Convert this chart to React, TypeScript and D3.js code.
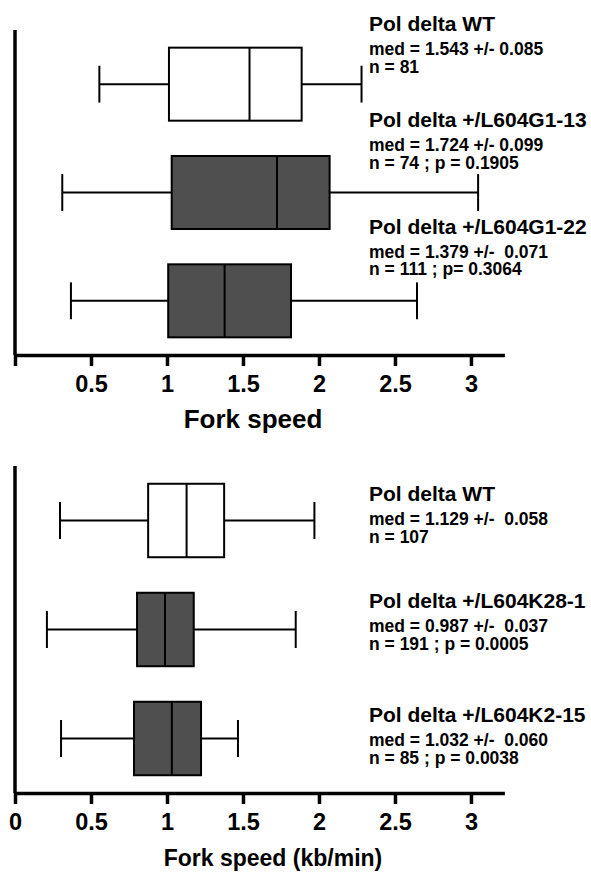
import React, { useEffect, useRef } from 'react';
import * as d3 from 'd3';

// top panel (G1 mutants)
const topGroups = ['Pol delta WT', 'Pol delta +/L604G1-13', 'Pol delta +/L604G1-22'];
const topMin = [0.555, 0.311, 0.368];
const topQ1 = [1.013, 1.031, 1.008];
const topMedian = [1.543, 1.724, 1.379];
const topQ3 = [1.886, 2.07, 1.816];
const topMax = [2.28, 3.047, 2.645];
const topMed = ['med = 1.543 +/- 0.085', 'med = 1.724 +/- 0.099', 'med = 1.379 +/-\u00a0 0.071'];
const topN = ['n = 81', 'n = 74 ; p = 0.1905', 'n = 111 ; p= 0.3064'];
const topMutant = [false, true, true];

// bottom panel (K mutants)
const botGroups = ['Pol delta WT', 'Pol delta +/L604K28-1', 'Pol delta +/L604K2-15'];
const botMin = [0.296, 0.21, 0.303];
const botQ1 = [0.876, 0.803, 0.783];
const botMedian = [1.129, 0.987, 1.032];
const botQ3 = [1.376, 1.176, 1.224];
const botMax = [1.97, 1.847, 1.467];
const botMed = ['med = 1.129 +/-\u00a0 0.058', 'med = 0.987 +/-\u00a0 0.037', 'med = 1.032 +/-\u00a0 0.060'];
const botN = ['n = 107', 'n = 191 ; p = 0.0005', 'n = 85 ; p = 0.0038'];
const botMutant = [false, true, true];

const xTicks = [0, 0.5, 1, 1.5, 2, 2.5, 3];

const FONT = '"Liberation Sans", Arial, Helvetica, sans-serif';

const BoxPanel = ({ groups, mins, q1s, medians, q3s, maxs, medText, nText, mutant,
  top, bottom, labelOffsets, showZero, title, titleX, titleSize }) => {
  const axisRef = useRef();

  const x = d3.scaleLinear().domain([0, 3.22]).range([15, 504.4]);
  const y = d3.scaleBand().domain(groups).range([top, bottom]).padding(0);
  const boxH = y.bandwidth() * 0.674;
  const capH = y.bandwidth() * 0.34;

  useEffect(() => {
    const g = d3.select(axisRef.current);
    g.selectAll('*').remove();
    g.call(
      d3.axisBottom(x)
        .tickValues(xTicks)
        .tickSize(11)
        .tickSizeOuter(0)
        .tickPadding(9)
        .tickFormat(d => (d === 0 && !showZero ? '' : d3.format('')(d)))
    );
    g.select('.domain').attr('stroke', '#000').attr('stroke-width', 3.5);
    g.selectAll('.tick line').attr('stroke', '#000').attr('stroke-width', 3.5);
    g.selectAll('.tick text')
      .attr('fill', '#000')
      .attr('font-family', FONT)
      .attr('font-weight', 'bold')
      .attr('font-size', 23.5);
  }, []);

  return (
    <g>
      {/* y axis */}
      <line x1={x(0)} x2={x(0)} y1={top} y2={bottom} stroke="#000" strokeWidth={3.5} />
      {groups.map((name, i) => {
        const cy = y(name) + y.bandwidth() / 2;
        return (
          <g key={name}>
            <line x1={x(mins[i])} x2={x(q1s[i])} y1={cy} y2={cy} stroke="#000" strokeWidth={2} />
            <line x1={x(q3s[i])} x2={x(maxs[i])} y1={cy} y2={cy} stroke="#000" strokeWidth={2} />
            <line x1={x(mins[i])} x2={x(mins[i])} y1={cy - capH / 2} y2={cy + capH / 2} stroke="#000" strokeWidth={2} />
            <line x1={x(maxs[i])} x2={x(maxs[i])} y1={cy - capH / 2} y2={cy + capH / 2} stroke="#000" strokeWidth={2} />
            <rect x={x(q1s[i])} y={cy - boxH / 2} width={x(q3s[i]) - x(q1s[i])} height={boxH}
              fill={mutant[i] ? '#4f4f4f' : '#fff'} stroke="#000" strokeWidth={2} />
            <line x1={x(medians[i])} x2={x(medians[i])} y1={cy - boxH / 2} y2={cy + boxH / 2} stroke="#000" strokeWidth={2} />
            <g fontFamily={FONT} fontWeight="bold" fill="#000">
              <text x={369} y={cy + labelOffsets[i]} fontSize={21}>{name}</text>
              <text x={369} y={cy + labelOffsets[i] + 24} fontSize={17.5}>{medText[i]}</text>
              <text x={369} y={cy + labelOffsets[i] + 41.5} fontSize={17.5}>{nText[i]}</text>
            </g>
          </g>
        );
      })}
      <g ref={axisRef} transform={`translate(0,${bottom})`} />
      <text x={titleX} y={bottom + 73} textAnchor="middle" fontFamily={FONT} fontWeight="bold"
        fontSize={titleSize} fill="#000">{title}</text>
    </g>
  );
};

export default function App() {
  return (
    <svg width={591} height={876} style={{ position: 'absolute', left: 0, top: 0, background: '#fff' }}>
      <BoxPanel groups={topGroups} mins={topMin} q1s={topQ1} medians={topMedian} q3s={topQ3} maxs={topMax}
        medText={topMed} nText={topN} mutant={topMutant}
        top={30} bottom={355} labelOffsets={[-53, -65.5, -67]} showZero={false}
        title="Fork speed" titleX={253} titleSize={26} />
      <BoxPanel groups={botGroups} mins={botMin} q1s={botQ1} medians={botMedian} q3s={botQ3} maxs={botMax}
        medText={botMed} nText={botN} mutant={botMutant}
        top={466} bottom={793} labelOffsets={[-19.5, -21.5, -16.5]} showZero={true}
        title="Fork speed (kb/min)" titleX={273} titleSize={23} />
    </svg>
  );
}
